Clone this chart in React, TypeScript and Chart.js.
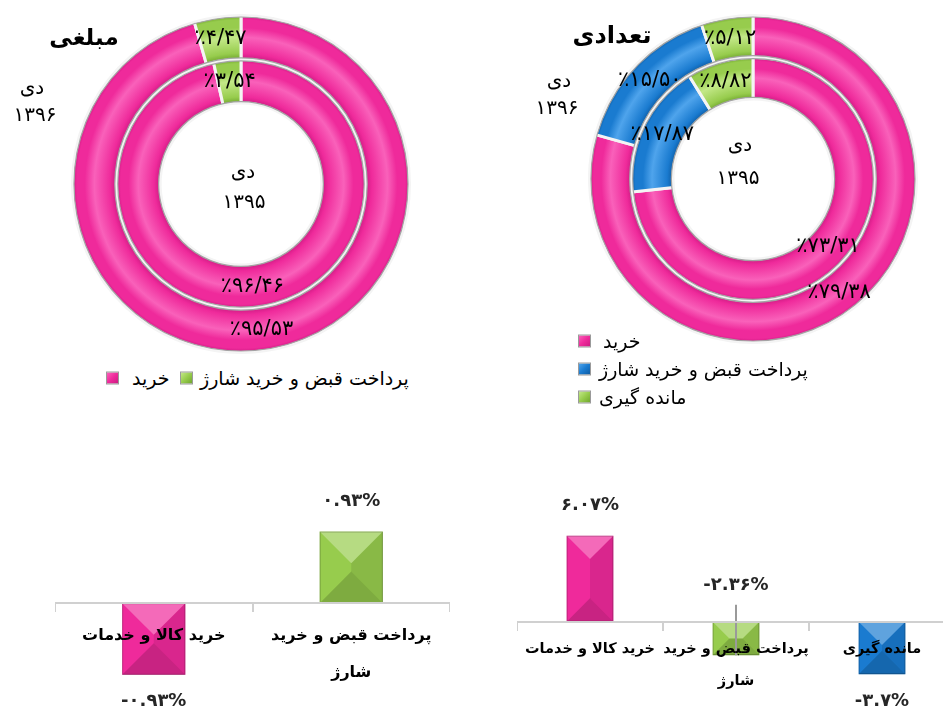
import React, { useEffect, useRef } from "react";
import { Chart, registerables } from "chart.js";
Chart.register(...registerables);

const FONT = '"DejaVu Sans", sans-serif';

// ---------- data ----------
const amountLabels = ["خرید", "پرداخت قبض و خرید شارژ"];
const amount1396 = [95.53, 4.47];
const amount1395 = [96.46, 3.54];

const countLabels = ["خرید", "پرداخت قبض و خرید شارژ", "مانده گیری"];
const count1396 = [79.38, 15.5, 5.12];
const count1395 = [73.31, 17.87, 8.82];

const amountChangeCats = [["خرید کالا و خدمات"], ["پرداخت قبض و خرید", "شارژ"]];
const amountChange = [-0.93, 0.93];

const countChangeCats = [["خرید کالا و خدمات"], ["پرداخت قبض و خرید", "شارژ"], ["مانده گیری"]];
const countChange = [6.07, -2.36, -3.7];

// ---------- styles ----------
type Pal = { base: string; light: string; dark: string };
const PINK: Pal = { base: "#EF2A9B", light: "#F961BA", dark: "#CC1B82" };
const GREEN: Pal = { base: "#97CC4D", light: "#C3E888", dark: "#6FA52D" };
const BLUE: Pal = { base: "#1A7BD0", light: "#4FA4EC", dark: "#0E5BA2" };

const fa = (s: string) => s.replace(/[0-9]/g, (d) => "۰۱۲۳۴۵۶۷۸۹"[+d]);
const pctRing = (v: number) => "٪" + fa(v.toFixed(2).replace(".", "/"));
const pctBar = (v: number) => fa(String(v)) + "%";

function ringFill(pals: Pal[]) {
  return (ctx: any) => {
    const pal = pals[ctx.dataIndex % pals.length];
    const chart = ctx.chart;
    const area = chart.chartArea;
    const meta = chart.getDatasetMeta(ctx.datasetIndex);
    const ctrl: any = meta && meta.controller;
    if (!area || !ctrl || !ctrl.outerRadius) return pal.base;
    const cx = (area.left + area.right) / 2;
    const cy = (area.top + area.bottom) / 2;
    const g = chart.ctx.createRadialGradient(cx, cy, ctrl.innerRadius, cx, cy, ctrl.outerRadius);
    g.addColorStop(0, pal.dark);
    g.addColorStop(0.14, pal.base);
    g.addColorStop(0.5, pal.light);
    g.addColorStop(0.72, pal.base);
    g.addColorStop(0.9, pal.base);
    g.addColorStop(1, pal.dark);
    return g;
  };
}

const ringDecor = {
  id: "ringDecor",
  afterDatasetsDraw(chart: any) {
    const c = chart.ctx;
    const area = chart.chartArea;
    const cx = (area.left + area.right) / 2;
    const cy = (area.top + area.bottom) / 2;
    c.save();
    c.strokeStyle = "#a4a4a4";
    c.lineWidth = 1.2;
    chart.data.datasets.forEach((_: any, i: number) => {
      const ctrl: any = chart.getDatasetMeta(i).controller;
      [ctrl.outerRadius - 1.5, ctrl.innerRadius + 1.5].forEach((r: number) => {
        c.beginPath();
        c.arc(cx, cy, r, 0, Math.PI * 2);
        c.stroke();
      });
    });
    c.restore();
  },
};

const arcLabels = {
  id: "arcLabels",
  afterDatasetsDraw(chart: any) {
    const c = chart.ctx;
    c.save();
    c.font = `21px ${FONT}`;
    c.fillStyle = "#000";
    c.textAlign = "center";
    c.textBaseline = "middle";
    (c as any).direction = "ltr";
    chart.data.datasets.forEach((ds: any, i: number) => {
      chart.getDatasetMeta(i).data.forEach((el: any, j: number) => {
        const p = el.getCenterPoint();
        c.fillText(pctRing(ds.data[j]), p.x, p.y);
      });
    });
    c.restore();
  },
};

function shade(c: CanvasRenderingContext2D, pts: number[][], color: string) {
  c.beginPath();
  c.moveTo(pts[0][0], pts[0][1]);
  for (let k = 1; k < pts.length; k++) c.lineTo(pts[k][0], pts[k][1]);
  c.closePath();
  c.fillStyle = color;
  c.fill();
}

const barBevel = {
  id: "barBevel",
  afterDatasetsDraw(chart: any) {
    const c = chart.ctx;
    c.save();
    chart.getDatasetMeta(0).data.forEach((el: any) => {
      const l = el.x - el.width / 2;
      const r = el.x + el.width / 2;
      const t = Math.min(el.y, el.base);
      const b = Math.max(el.y, el.base);
      const d = Math.min(r - l, b - t) / 2;
      const il = l + d, ir = r - d, it = t + d, ib = b - d;
      shade(c, [[l, t], [r, t], [ir, it], [il, it]], "rgba(255,255,255,0.30)");
      shade(c, [[r, t], [r, b], [ir, ib], [ir, it]], "rgba(0,0,0,0.09)");
      shade(c, [[l, b], [r, b], [ir, ib], [il, ib]], "rgba(0,0,0,0.16)");
      c.strokeStyle = "rgba(0,0,0,0.2)";
      c.lineWidth = 1;
      c.strokeRect(l + 0.5, t + 0.5, r - l - 1, b - t - 1);
    });
    c.restore();
  },
};

const barValueLabels = {
  id: "barValueLabels",
  afterDatasetsDraw(chart: any, _args: any, opts: any) {
    const c = chart.ctx;
    const ds = chart.data.datasets[0];
    c.save();
    c.font = `bold 18px ${FONT}`;
    c.fillStyle = "#262626";
    c.textAlign = "center";
    c.textBaseline = "middle";
    (c as any).direction = "ltr";
    chart.getDatasetMeta(0).data.forEach((el: any, i: number) => {
      const v = ds.data[i];
      let y = v >= 0 ? el.y - 30 : el.y + 27;
      if (opts && opts.leaderIndex === i) {
        y = el.base - 36;
        c.strokeStyle = "#9a9a9a";
        c.lineWidth = 2;
        c.beginPath();
        c.moveTo(el.x, y + 19);
        c.lineTo(el.x, el.y);
        c.stroke();
      }
      c.fillText(pctBar(v), el.x, y);
    });
    c.restore();
  },
};

// ---------- components ----------
function RingChart(props: { left: number; top: number; size: number; labels: string[]; rings: number[][]; pals: Pal[]; cutout: string }) {
  const ref = useRef<HTMLCanvasElement>(null);
  useEffect(() => {
    const chart = new Chart(ref.current as HTMLCanvasElement, {
      type: "doughnut",
      data: {
        labels: props.labels,
        datasets: props.rings.map((d) => ({
          data: d,
          backgroundColor: ringFill(props.pals) as any,
          borderColor: "#f4f4f4",
          borderWidth: 3,
        })),
      },
      options: {
        responsive: false,
        animation: false,
        cutout: props.cutout,
        layout: { padding: 0 },
        plugins: { legend: { display: false }, tooltip: { enabled: false } },
      } as any,
      plugins: [ringDecor, arcLabels],
    });
    return () => chart.destroy();
  }, []);
  return (
    <canvas
      ref={ref}
      width={props.size}
      height={props.size}
      style={{ position: "absolute", left: props.left, top: props.top, width: props.size, height: props.size }}
    />
  );
}

function BarChart(props: {
  left: number; top: number; width: number; height: number;
  cats: string[][]; values: number[]; colors: string[];
  yMin: number; yMax: number; pad: number; lineHeight: string; fontSize: number; leaderIndex?: number;
}) {
  const ref = useRef<HTMLCanvasElement>(null);
  useEffect(() => {
    const chart = new Chart(ref.current as HTMLCanvasElement, {
      type: "bar",
      data: {
        labels: props.cats as any,
        datasets: [
          {
            data: props.values,
            backgroundColor: props.colors,
            borderWidth: 0,
            barPercentage: 0.32,
            categoryPercentage: 1,
          },
        ],
      },
      options: {
        responsive: false,
        animation: false,
        layout: { padding: 0 },
        plugins: {
          legend: { display: false },
          tooltip: { enabled: false },
          barValueLabels: { leaderIndex: props.leaderIndex },
        },
        scales: {
          x: {
            type: "category",
            position: { y: 0 },
            offset: true,
            grid: { display: true, offset: true, drawOnChartArea: false, drawTicks: true, tickLength: 8, color: "#d0d0d0", lineWidth: 2, z: -1 },
            border: { display: true, color: "#d0d0d0", width: 2, z: 1 },
            ticks: {
              z: 2,
              color: "#000",
              font: { family: FONT, size: props.fontSize, weight: "bold", lineHeight: props.lineHeight },
              padding: props.pad,
              maxRotation: 0,
              minRotation: 0,
              autoSkip: false,
            },
          },
          y: { display: false, min: props.yMin, max: props.yMax },
        },
      } as any,
      plugins: [barBevel, barValueLabels],
    });
    return () => chart.destroy();
  }, []);
  return (
    <canvas
      ref={ref}
      width={props.width}
      height={props.height}
      style={{ position: "absolute", left: props.left, top: props.top, width: props.width, height: props.height }}
    />
  );
}

function Txt(props: { x: number; y: number; size: number; bold?: boolean; children: any }) {
  return (
    <div
      style={{
        position: "absolute",
        left: props.x,
        top: props.y,
        transform: "translate(-50%, -50%)",
        fontFamily: FONT,
        fontSize: props.size,
        fontWeight: props.bold ? "bold" : "normal",
        whiteSpace: "nowrap",
        direction: "rtl",
        color: "#000",
        lineHeight: 1,
      }}
    >
      {props.children}
    </div>
  );
}

function Swatch(props: { pal: Pal }) {
  const p = props.pal;
  return (
    <span
      style={{
        display: "inline-block",
        width: 13,
        height: 13,
        border: "1px solid #9a9a9a",
        background: `linear-gradient(135deg, ${p.light} 0%, ${p.base} 50%, ${p.dark} 100%)`,
        boxSizing: "border-box",
        flex: "none",
      }}
    />
  );
}

function LegendItem(props: { x: number; y: number; pal: Pal; text: string; gap: number }) {
  return (
    <div
      style={{
        position: "absolute",
        left: props.x,
        top: props.y,
        transform: "translateY(-50%)",
        display: "flex",
        alignItems: "center",
        gap: props.gap,
        fontFamily: FONT,
        fontSize: 19,
        whiteSpace: "nowrap",
        lineHeight: 1,
      }}
    >
      <Swatch pal={props.pal} />
      <span style={{ direction: "rtl" }}>{props.text}</span>
    </div>
  );
}

export default function App() {
  return (
    <div style={{ position: "absolute", left: 0, top: 0, width: 943, height: 711, overflow: "hidden", background: "#fff" }}>
      {/* top-left ring chart */}
      <RingChart left={71} top={14} size={340} labels={amountLabels} rings={[amount1396, amount1395]} pals={[PINK, GREEN]} cutout="48%" />
      <Txt x={84} y={37} size={23} bold>مبلغی</Txt>
      <Txt x={32} y={87} size={20}>دی</Txt>
      <Txt x={35} y={114} size={20}>{fa("1396")}</Txt>
      <Txt x={243} y={171} size={20}>دی</Txt>
      <Txt x={244} y={201} size={20}>{fa("1395")}</Txt>
      <LegendItem x={106} y={378} pal={PINK} text={amountLabels[0]} gap={13} />
      <LegendItem x={180} y={378} pal={GREEN} text={amountLabels[1]} gap={7} />

      {/* top-right ring chart */}
      <RingChart left={588} top={14} size={330} labels={countLabels} rings={[count1396, count1395]} pals={[PINK, BLUE, GREEN]} cutout="49%" />
      <Txt x={612} y={35} size={24} bold>تعدادی</Txt>
      <Txt x={559} y={80} size={20}>دی</Txt>
      <Txt x={557} y={107} size={20}>{fa("1396")}</Txt>
      <Txt x={740} y={144} size={20}>دی</Txt>
      <Txt x={738} y={177} size={20}>{fa("1395")}</Txt>
      <LegendItem x={578} y={341} pal={PINK} text={countLabels[0]} gap={12} />
      <LegendItem x={578} y={369} pal={BLUE} text={countLabels[1]} gap={8} />
      <LegendItem x={578} y={397} pal={GREEN} text={countLabels[2]} gap={8} />

      {/* bottom bar charts */}
      <BarChart left={55} top={480} width={395} height={231} cats={amountChangeCats} values={amountChange}
        colors={[PINK.base, GREEN.base]} yMin={-1.4} yMax={1.6} pad={6} lineHeight="37px" fontSize={16} />
      <BarChart left={517} top={480} width={438} height={231} cats={countChangeCats} values={countChange}
        colors={[PINK.base, GREEN.base, BLUE.base]} yMin={-6.3} yMax={10} pad={4} lineHeight="32px" fontSize={14.5} leaderIndex={1} />
    </div>
  );
}
